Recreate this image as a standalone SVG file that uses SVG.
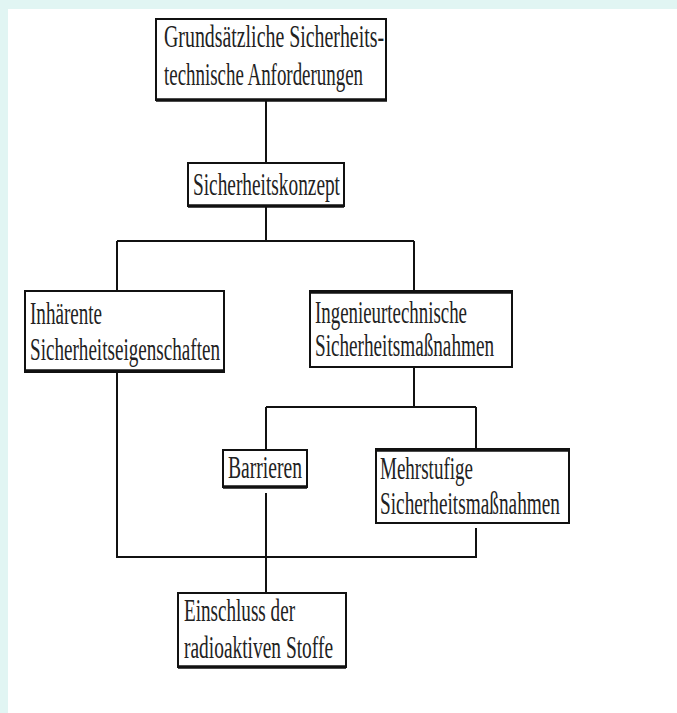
<svg xmlns="http://www.w3.org/2000/svg" width="677" height="713" viewBox="0 0 677 713">
<style>
.box{fill:#fff;stroke:#111;stroke-width:2}
.thick{stroke:#111;stroke-width:3.5}
.t{font-family:"Liberation Serif","Times New Roman",serif;font-size:31px;fill:#222}
.c{fill:none;stroke:#111;stroke-width:2}
</style>
<rect x="0" y="0" width="677" height="713" fill="#e1f5f3"/>
<rect x="8" y="9" width="669" height="704" fill="#fff"/>
<g id="connectors">
<path class="c" d="M266,100 V163"/>
<path class="c" d="M266,206 V241 M117,241 H414 M117,241 V291 M414,241 V291"/>
<path class="c" d="M414,367 V407 M266,407 H476 M266,407 V450 M476,407 V449"/>
<path class="c" d="M117,372 V557 H476 V528"/>
<path class="c" d="M266,493 V593"/>
</g>
<g id="node-grundsaetzlich">
<rect class="box" x="156" y="19" width="230" height="81"/>
<line class="thick" x1="156" y1="100" x2="387" y2="100"/>
<text class="t" x="164" y="47" textLength="220" lengthAdjust="spacingAndGlyphs">Grundsätzliche Sicherheits-</text>
<text class="t" x="164" y="85" textLength="199" lengthAdjust="spacingAndGlyphs">technische Anforderungen</text>
</g>
<g id="node-konzept">
<rect class="box" x="188" y="163" width="156" height="43"/>
<line class="thick" x1="188" y1="206" x2="344" y2="206"/>
<text class="t" x="193" y="195" textLength="147" lengthAdjust="spacingAndGlyphs">Sicherheitskonzept</text>
</g>
<g id="node-inhaerent">
<rect class="box" x="25" y="291" width="199" height="81"/>
<line class="thick" x1="25" y1="371" x2="224" y2="371"/>
<text class="t" x="30" y="324" textLength="72" lengthAdjust="spacingAndGlyphs">Inhärente</text>
<text class="t" x="30" y="360" textLength="190" lengthAdjust="spacingAndGlyphs">Sicherheitseigenschaften</text>
</g>
<g id="node-ingenieur">
<rect class="box" x="310" y="291" width="202" height="76"/>
<line class="thick" x1="310" y1="292" x2="512" y2="292"/>
<text class="t" x="315" y="323" textLength="152" lengthAdjust="spacingAndGlyphs">Ingenieurtechnische</text>
<text class="t" x="315" y="356" textLength="179" lengthAdjust="spacingAndGlyphs">Sicherheitsmaßnahmen</text>
</g>
<g id="node-barrieren">
<rect class="box" x="223" y="450" width="84" height="37"/>
<line class="thick" x1="223" y1="487" x2="307" y2="487"/>
<text class="t" x="228" y="478" textLength="74" lengthAdjust="spacingAndGlyphs">Barrieren</text>
</g>
<g id="node-mehrstufig">
<rect class="box" x="376" y="449" width="193" height="74"/>
<line class="thick" x1="376" y1="450" x2="569" y2="450"/>
<text class="t" x="380" y="479" textLength="93" lengthAdjust="spacingAndGlyphs">Mehrstufige</text>
<text class="t" x="380" y="514" textLength="180" lengthAdjust="spacingAndGlyphs">Sicherheitsmaßnahmen</text>
</g>
<g id="node-einschluss">
<rect class="box" x="178" y="593" width="168" height="74"/>
<line class="thick" x1="178" y1="667" x2="346" y2="667"/>
<text class="t" x="184" y="621" textLength="111" lengthAdjust="spacingAndGlyphs">Einschluss der</text>
<text class="t" x="184" y="658" textLength="149" lengthAdjust="spacingAndGlyphs">radioaktiven Stoffe</text>
</g>
</svg>
